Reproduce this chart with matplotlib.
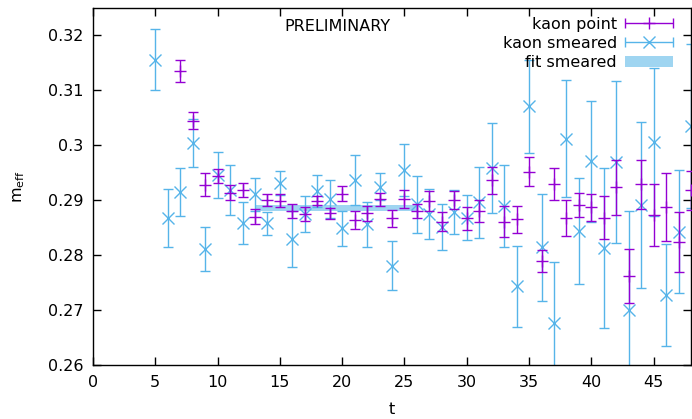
import numpy as np
import matplotlib
matplotlib.use('Agg')
import matplotlib.pyplot as plt
from matplotlib.legend_handler import HandlerErrorbar

# effective mass, point source
t_point = np.arange(7, 49)
m_point = [0.3135, 0.3045, 0.2928, 0.2944, 0.2914, 0.2918, 0.2870, 0.2900,
           0.2899, 0.2881, 0.2875, 0.2899, 0.2876, 0.2912, 0.2864, 0.2876,
           0.2902, 0.2867, 0.2902, 0.2881, 0.2899, 0.2861, 0.2900, 0.2867,
           0.2881, 0.2936, 0.2861, 0.2865, 0.2952, 0.2790, 0.2930, 0.2867,
           0.2891, 0.2887, 0.2868, 0.2924, 0.2762, 0.2929, 0.2873, 0.2888,
           0.2824, 0.2918]
e_point = [0.0020, 0.0016, 0.0021, 0.0013, 0.0013, 0.0013, 0.0014, 0.0011,
           0.0012, 0.0013, 0.0012, 0.0008, 0.0010, 0.0014, 0.0016, 0.0014,
           0.0012, 0.0016, 0.0017, 0.0013, 0.0018, 0.0017, 0.0016, 0.0021,
           0.0020, 0.0025, 0.0028, 0.0025, 0.0026, 0.0020, 0.0029, 0.0033,
           0.0022, 0.0025, 0.0039, 0.0050, 0.0049, 0.0045, 0.0056, 0.0062,
           0.0054, 0.0036]

# effective mass, smeared source
t_smear = np.arange(5, 49)
m_smear = [0.3156, 0.2867, 0.2915, 0.3004, 0.2812, 0.2946, 0.2919, 0.2858,
           0.2911, 0.2858, 0.2932, 0.2830, 0.2875, 0.2917, 0.2902, 0.2849,
           0.2937, 0.2856, 0.2925, 0.2781, 0.2955, 0.2893, 0.2875, 0.2852,
           0.2878, 0.2868, 0.2896, 0.2959, 0.2889, 0.2743, 0.3071, 0.2814,
           0.2676, 0.3012, 0.2844, 0.2971, 0.2813, 0.2970, 0.2700, 0.2891,
           0.3006, 0.2728, 0.2843, 0.3035]
e_smear = [0.0055, 0.0053, 0.0043, 0.0044, 0.0040, 0.0042, 0.0046, 0.0038,
           0.0030, 0.0021, 0.0022, 0.0051, 0.0033, 0.0029, 0.0035, 0.0032,
           0.0045, 0.0041, 0.0025, 0.0044, 0.0047, 0.0052, 0.0045, 0.0042,
           0.0040, 0.0041, 0.0065, 0.0082, 0.0075, 0.0073, 0.0085, 0.0097,
           0.0112, 0.0107, 0.0097, 0.0110, 0.0145, 0.0147, 0.0180, 0.0151,
           0.0135, 0.0093, 0.0112, 0.0150]

# plateau fit to the smeared data
fit_range = [13, 26]
fit_value = 0.2886
fit_error = 0.0005

purple = '#9400d3'
blue = '#56b4e9'
band = '#9fd5f1'

plt.rcParams['font.size'] = 11.5

fig = plt.figure(figsize=(6.92, 4.19), dpi=100)
ax = fig.add_axes([93 / 692, 54 / 419, 598 / 692, 357 / 419])

ax.fill_between(fit_range, fit_value - fit_error, fit_value + fit_error,
                color=band, lw=0, zorder=1)
ax.errorbar(t_point, m_point, yerr=e_point, fmt='+', color=purple, ms=9,
            mew=1.0, elinewidth=1.0, capsize=3.5, capthick=1.0, zorder=3)
ax.errorbar(t_smear, m_smear, yerr=e_smear, fmt='x', color=blue, ms=9,
            mew=1.0, elinewidth=1.0, capsize=3.5, capthick=1.0, zorder=2)

# legend samples drawn as horizontal bars, like gnuplot does
h_point = ax.errorbar([np.nan], [np.nan], xerr=[1], fmt='+', color=purple,
                      ms=9, mew=1.0, elinewidth=1.0, capsize=3.5, capthick=1.0)
h_smear = ax.errorbar([np.nan], [np.nan], xerr=[1], fmt='x', color=blue,
                      ms=9, mew=1.0, elinewidth=1.0, capsize=3.5, capthick=1.0)
h_fit = plt.Rectangle((0, 0), 1, 1, color=band, lw=0)
ax.legend([h_point, h_smear, h_fit], ['kaon point', 'kaon smeared', 'fit smeared'],
          loc='upper right', bbox_to_anchor=(673 / 692, 1 - 17 / 419),
          bbox_transform=fig.transFigure, frameon=False, markerfirst=False,
          handlelength=3.0, handletextpad=0.5, borderpad=0, borderaxespad=0,
          labelspacing=0.25,
          handler_map={type(h_point): HandlerErrorbar(xerr_size=1.5)})

ax.text(15.4, 0.3217, 'PRELIMINARY', ha='left', va='center')

ax.set_xlim(0, 48)
ax.set_ylim(0.26, 0.325)
ax.set_xticks(np.arange(0, 50, 5))
ax.set_yticks([0.26, 0.27, 0.28, 0.29, 0.3, 0.31, 0.32])
ax.set_yticklabels(['0.26', '0.27', '0.28', '0.29', '0.3', '0.31', '0.32'])
ax.tick_params(direction='in', top=True, right=True, length=6, width=1.0,
               pad=7)
for s in ax.spines.values():
    s.set_linewidth(1.0)

ax.set_xlabel('t', labelpad=9)
ax.set_ylabel(r'$\mathregular{m_{eff}}$', labelpad=15)

fig.savefig('out.png', dpi=100)
